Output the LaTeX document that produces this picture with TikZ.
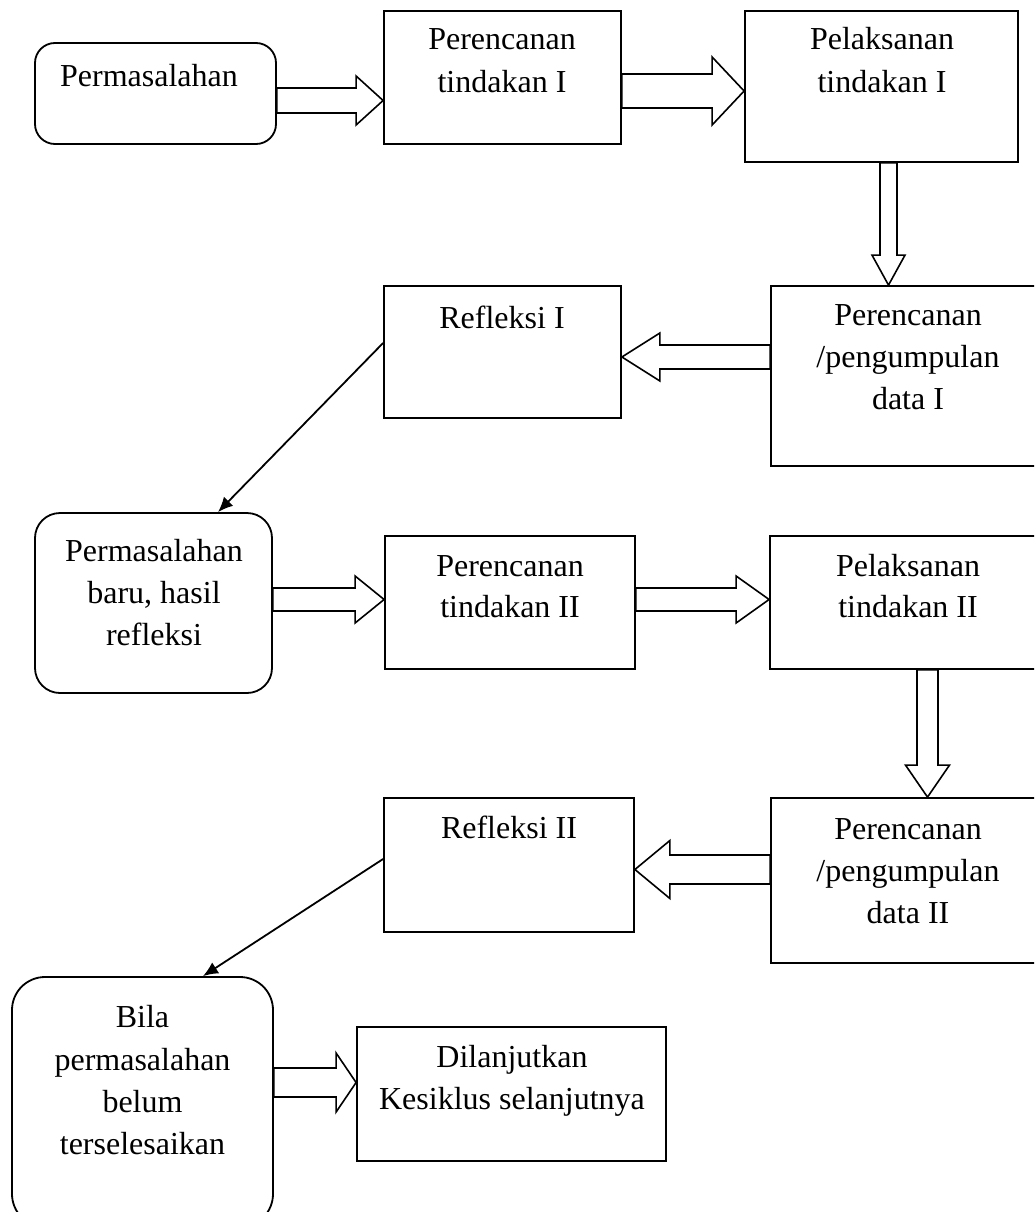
\documentclass[tikz,border=0pt]{standalone}
\usepackage{fontspec}
\setmainfont{Liberation Serif}
\usetikzlibrary{calc,arrows.meta}
\newcommand\hblockarrow[5]{\draw[barrow] let \p1=(#1), \p2=(#2) in
  (\x1,\y1+#3pt) -- (\x2-#5pt,\y1+#3pt) -- (\x2-#5pt,\y1+#4pt) -- (\x2,\y1)
  -- (\x2-#5pt,\y1-#4pt) -- (\x2-#5pt,\y1-#3pt) -- (\x1,\y1-#3pt) -- cycle;}
\newcommand\vblockarrow[5]{\draw[barrow] let \p1=(#1), \p2=(#2) in
  (\x1+#3pt,\y1) -- (\x1+#3pt,\y2+#5pt) -- (\x1+#4pt,\y2+#5pt) -- (\x1,\y2)
  -- (\x1-#4pt,\y2+#5pt) -- (\x1-#3pt,\y2+#5pt) -- (\x1-#3pt,\y1) -- cycle;}
\begin{document}
\begin{tikzpicture}[x=1pt,y=-1pt,
  box/.style={draw=black, line width=1.8pt, fill=white, inner sep=0pt},
  txt/.style={anchor=base, inner sep=0pt, font=\fontsize{32}{38}\selectfont},
  barrow/.style={draw=black, line width=1.6pt, fill=white, line join=miter},
  thinarrow/.style={draw=black, line width=1.8pt, -{Latex[length=15pt,width=13pt]}}]
\path[use as bounding box, clip] (0,0) rectangle (1034,1212);
\fill[white] (0,0) rectangle (1034,1212);

% boxes
\node[box, rounded corners=20pt, minimum width=241pt, minimum height=101pt] (perm) at (155.5,93.5) {};
\node[box, minimum width=237pt, minimum height=133pt] (per1) at (502.5,77.5) {};
\node[box, minimum width=273pt, minimum height=151pt] (pel1) at (881.5,86.5) {};
\node[box, minimum width=274pt, minimum height=180pt] (data1) at (908,376) {};
\node[box, minimum width=237pt, minimum height=132pt] (ref1) at (502.5,352) {};
\node[box, rounded corners=25pt, minimum width=237pt, minimum height=180pt] (baru) at (153.5,603) {};
\node[box, minimum width=250pt, minimum height=133pt] (per2) at (510,602.5) {};
\node[box, minimum width=275pt, minimum height=133pt] (pel2) at (907.5,602.5) {};
\node[box, minimum width=274pt, minimum height=165pt] (data2) at (908,880.5) {};
\node[box, minimum width=250pt, minimum height=134pt] (ref2) at (509,865) {};
\node[box, rounded corners=33pt, minimum width=261pt, minimum height=250pt] (bila) at (142.5,1102) {};
\node[box, minimum width=309pt, minimum height=134pt] (dil) at (511.5,1094) {};

% texts
\node[txt] (perm-a) at (149,87) {Permasalahan};
\node[txt] (per1-a) at (502,50) {Perencanan};
\node[txt] (per1-b) at (502,93) {tindakan I};
\node[txt] (pel1-a) at (882,50) {Pelaksanan};
\node[txt] (pel1-b) at (882,93) {tindakan I};
\node[txt] (data1-a) at (908,325) {Perencanan};
\node[txt] (data1-b) at (908,367) {/pengumpulan};
\node[txt] (data1-c) at (908,409) {data I};
\node[txt] (ref1-a) at (502,328) {Refleksi I};
\node[txt] (baru-a) at (154,561) {Permasalahan};
\node[txt] (baru-b) at (154,603) {baru, hasil};
\node[txt] (baru-c) at (154,645) {refleksi};
\node[txt] (per2-a) at (510,576) {Perencanan};
\node[txt] (per2-b) at (510,617) {tindakan II};
\node[txt] (pel2-a) at (908,576) {Pelaksanan};
\node[txt] (pel2-b) at (908,617) {tindakan II};
\node[txt] (data2-a) at (908,839) {Perencanan};
\node[txt] (data2-b) at (908,881) {/pengumpulan};
\node[txt] (data2-c) at (908,923) {data II};
\node[txt] (ref2-a) at (509,838) {Refleksi II};
\node[txt] (bila-a) at (142.5,1027) {Bila};
\node[txt] (bila-b) at (142.5,1070) {permasalahan};
\node[txt] (bila-c) at (142.5,1112) {belum};
\node[txt] (bila-d) at (142.5,1154) {terselesaikan};
\node[txt] (dil-a) at (512,1067) {Dilanjutkan};
\node[txt] (dil-b) at (512,1109) {Kesiklus selanjutnya};

% block arrows
\hblockarrow{perm.east |- 0,100.5}{per1.west |- 0,100.5}{12.5}{24.5}{27}
\hblockarrow{per1.east |- 0,91}{pel1.west |- 0,91}{17}{34}{32}
\vblockarrow{pel1.south -| 888.5,0}{data1.north -| 888.5,0}{8.5}{16.5}{30}
\hblockarrow{data1.west |- 0,357}{ref1.east |- 0,357}{12}{24}{-38}
\hblockarrow{baru.east |- 0,599.5}{per2.west |- 0,599.5}{11.5}{23.5}{29}
\hblockarrow{per2.east |- 0,599.5}{pel2.west |- 0,599.5}{11.5}{23.5}{33}
\vblockarrow{pel2.south -| 927.5,0}{data2.north -| 927.5,0}{10.5}{22}{32}
\hblockarrow{data2.west |- 0,869.5}{ref2.east |- 0,869.5}{14.5}{29}{-35}
\hblockarrow{bila.east |- 0,1082.5}{dil.west |- 0,1082.5}{14.5}{29.5}{20}

% thin arrows
\draw[thinarrow] (ref1.west |- 0,343) -- (baru.north -| 218,0);
\draw[thinarrow] (ref2.west |- 0,859) -- (bila.north -| 203,0);
\end{tikzpicture}
\end{document}
